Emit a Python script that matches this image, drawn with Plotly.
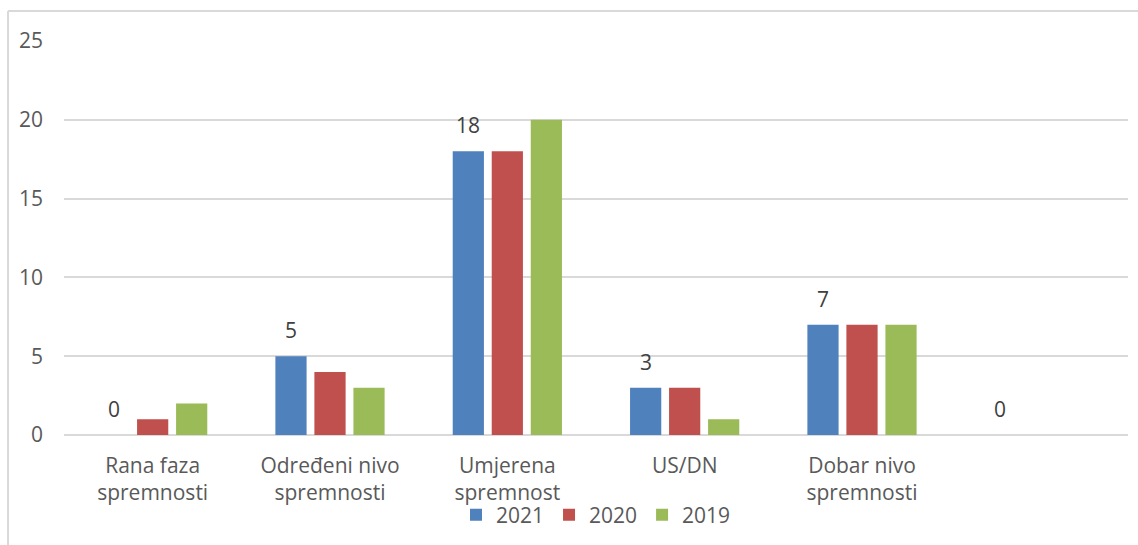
import plotly.graph_objects as go

categories = ["Rana faza<br>spremnosti", "Određeni nivo<br>spremnosti", "Umjerena<br>spremnost", "US/DN", "Dobar nivo<br>spremnosti", ""]
v2021 = [0, 5, 18, 3, 7, 0]
v2020 = [1, 4, 18, 3, 7, None]
v2019 = [2, 3, 20, 1, 7, None]
series = [("2021", v2021, "#4F81BD"), ("2020", v2020, "#C0504D"), ("2019", v2019, "#9BBB59")]

BARGAP = 0.34
x = list(range(len(categories)))
fig = go.Figure()
for name, vals, color in series:
    fig.add_trace(go.Bar(x=x, y=vals, name=name, marker=dict(color=color, line=dict(width=0))))

# data labels for 2021 series, above the first bar of each group
slot = (1 - BARGAP) / 3
for i, v in enumerate(v2021):
    fig.add_annotation(x=i - slot, y=v, xref="x", yref="y", text=str(v), showarrow=False,
                       yanchor="bottom", yshift=10, font=dict(size=21, color="#404040"))

FONT = "Open Sans, Liberation Sans, sans-serif"
fig.update_layout(
    width=1138, height=545,
    margin=dict(l=64, r=10, t=41, b=110),
    paper_bgcolor="white", plot_bgcolor="white",
    font=dict(family=FONT, size=21, color="#595959"),
    barmode="group", bargap=BARGAP, bargroupgap=0.2,
    showlegend=True,
    legend=dict(orientation="h", x=0.5, xanchor="center", y=-0.203, yanchor="middle",
                bgcolor="rgba(0,0,0,0)",
                font=dict(size=21, color="#595959"), itemwidth=30, traceorder="normal"),
    xaxis=dict(tickmode="array", tickvals=x, ticktext=categories, range=[-0.5, 5.5],
               showgrid=False, zeroline=False, showline=False, ticks="",
               ticklabelstandoff=16, tickfont=dict(size=21, color="#595959")),
    yaxis=dict(range=[0, 25], tick0=0, dtick=5, showgrid=True, gridcolor="#D9D9D9", gridwidth=2,
               zeroline=True, zerolinecolor="#D9D9D9", zerolinewidth=2, showline=False,
               ticks="", ticklabelstandoff=20, tickfont=dict(size=21, color="#595959")),
    shapes=[
        dict(type="line", xref="paper", yref="paper", x0=-0.0526, x1=-0.0526, y0=-0.3, y1=1.076,
             line=dict(color="#D9D9D9", width=2)),
        dict(type="line", xref="paper", yref="paper", x0=-0.0526, x1=1.02, y0=1.076, y1=1.076,
             line=dict(color="#D9D9D9", width=2)),
    ],
)
fig.write_html("out.html", config={"displayModeBar": False},
               post_script="document.body.style.margin='0';")
